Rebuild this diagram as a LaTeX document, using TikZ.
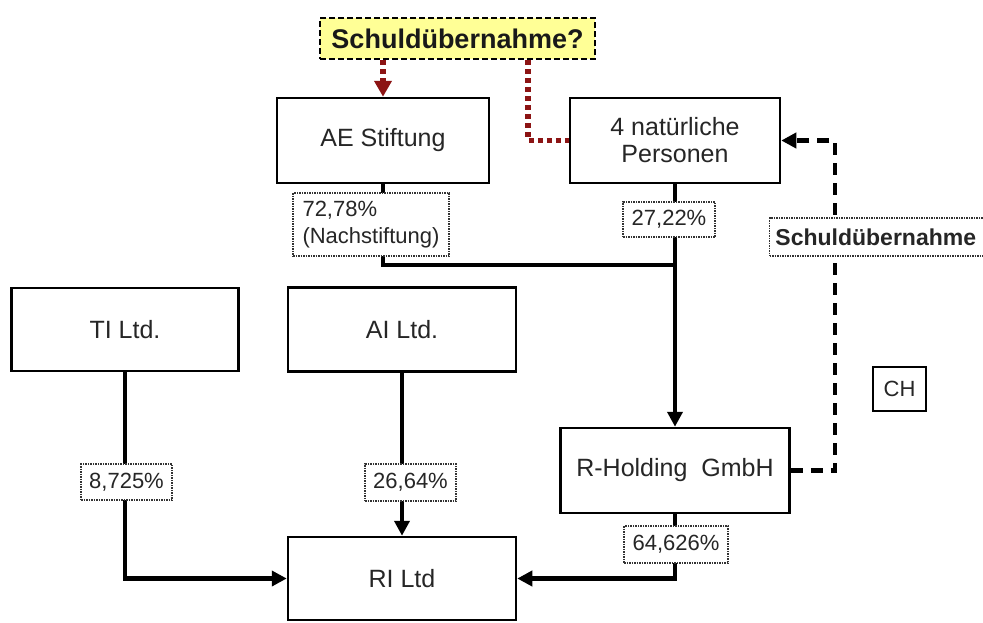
\documentclass[tikz,border=0pt]{standalone}
\usepackage{fontspec}
\setmainfont{Liberation Sans}
\usetikzlibrary{arrows.meta}
\definecolor{hl}{RGB}{255,255,150}
\definecolor{dred}{RGB}{140,20,20}
\begin{document}
\begin{tikzpicture}[x=1pt,y=-1pt,
  box/.style={draw=black,line width=2.5pt,inner sep=0pt,minimum width=#1,minimum height=85pt,
    font=\fontsize{25}{27}\selectfont,text=black!85,align=center},
  lbl/.style={draw=black!80,line width=1.2pt,dash pattern=on 1.5pt off 1pt,fill=white,inner sep=0pt,
    font=\fontsize{22}{27}\selectfont,text=black!85},
  conn/.style={line width=4.5pt,draw=black},
  arr/.style={-{Triangle[width=15pt,length=15pt]}},
  dashconn/.style={line width=4.5pt,dash pattern=on 12pt off 8pt},
  reddot/.style={line width=5.5pt,draw=dred,dash pattern=on 5pt off 4pt}
]
\useasboundingbox[fill=white] (0,0) rectangle (983,622);

% boxes
\node[box=212pt] (AE) at (383,140.5) {AE Stiftung};
\node[box=210pt] (P) at (675,140.5) {4 natürliche\\Personen};
\node[box=227pt,minimum height=83pt] (TI) at (125,329.5) {TI Ltd.};
\node[box=228pt,minimum height=84pt] (AI) at (402,329.5) {AI Ltd.};
\node[box=228pt,minimum height=83pt] (RI) at (402,578.5) {RI Ltd};
\node[box=229pt] (RH) at (675,470.5) {R-Holding\ \ GmbH};
\node[draw=black,line width=2pt,minimum width=53pt,minimum height=44pt,inner sep=0pt,
  font=\fontsize{22}{24}\selectfont,text=black!85] (CH) at (899.5,389) {CH};
\node[draw=black,line width=2.5pt,dash pattern=on 6pt off 3pt,fill=hl,minimum width=275pt,
  minimum height=41pt,inner sep=0pt,font=\fontsize{27}{29}\selectfont\bfseries,text=black!90] (Y) at (457.5,38.5) {Schuldübernahme?};

% coordinates
\coordinate (J) at (675,265);
\coordinate (D) at (835,470.5);
\coordinate (R) at (528,140.5);

% connectors
\draw[conn] (AE.south) -- (AE.south |- J) -- (J);
\draw[conn,arr] (P.south) -- (RH.north);
\draw[conn,arr] (TI.south) |- (RI.west);
\draw[conn,arr] (AI.south) -- (RI.north);
\draw[conn,arr] (RH.south) |- (RI.east);
\draw[dashconn,-{Triangle[width=15pt,length=15pt]}] (RH.east) -- (D) -- (D |- P.east) -- (P.east);
\draw[reddot,-{Triangle[width=17pt,length=16pt]}] (Y.south -| AE.north) -- (AE.north);
\draw[reddot] (Y.south -| R) -- (R) -- (P.west);

% labels
\node[lbl,minimum width=156pt,minimum height=63pt,align=left] (L1) at (371,224.5) {72,78\%\\(Nachstiftung)};
\node[lbl,minimum width=92pt,minimum height=35pt] (L2) at (669,219.5) {27,22\%};
\node[lbl,minimum width=91pt,minimum height=36pt] (L3) at (126.5,482) {8,725\%};
\node[lbl,minimum width=91pt,minimum height=37pt] (L4) at (410.5,482.5) {26,64\%};
\node[lbl,minimum width=104pt,minimum height=37pt] (L5) at (676,544.5) {64,626\%};
\node[lbl,minimum width=240pt,minimum height=38pt,anchor=west,text width=236pt,align=left,
  font=\fontsize{23}{25}\selectfont\bfseries] (L6) at (769,237) {\,Schuldübernahme};
\end{tikzpicture}
\end{document}
